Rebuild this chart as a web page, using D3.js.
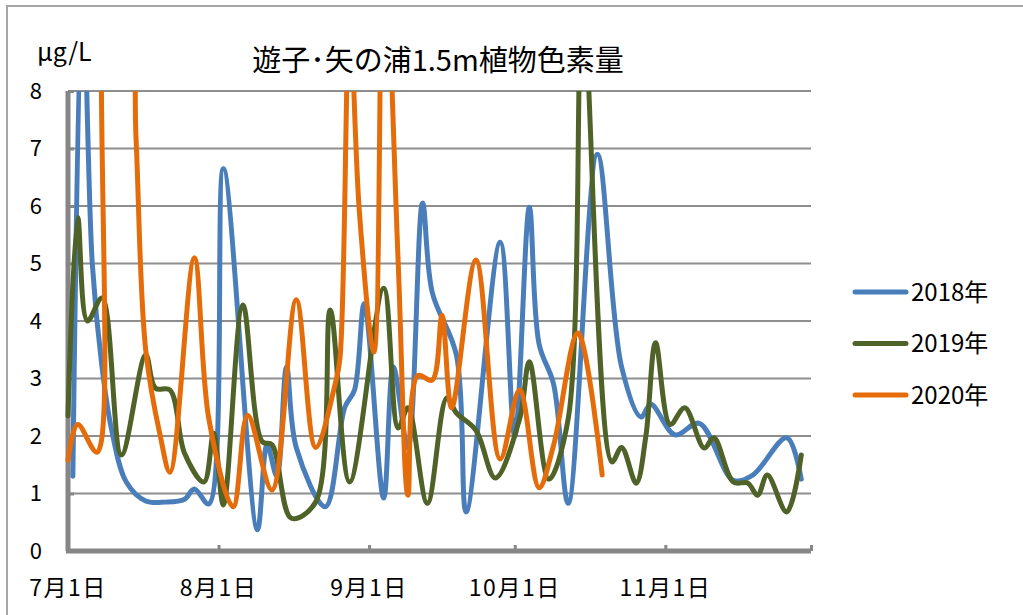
<!DOCTYPE html>
<html><head><meta charset="utf-8">
<script src="https://cdn.jsdelivr.net/npm/d3@7"></script>
<style>
html,body{margin:0;padding:0;background:#fff;}
svg{display:block;}
text{font-family:"Noto Sans CJK JP","Noto Sans",sans-serif;fill:#000;}
</style></head>
<body>
<svg id="chart" width="1023" height="615"></svg>
<script>
const title = "遊子･矢の浦1.5m植物色素量";
const yUnit = "μg/L";
const seriesNames = ["2018年", "2019年", "2020年"];
const seriesColors = ["#4a7ebb", "#4f6228", "#e46c0a"];
const yTicks = [0, 1, 2, 3, 4, 5, 6, 7, 8];
const xTickDates = ["7/1", "8/1", "9/1", "10/1", "11/1", "12/1"];
const xTickLabels = ["7月1日", "8月1日", "9月1日", "10月1日", "11月1日", ""];

const dates2018 = ["7/2","7/4","7/6","7/8","7/10","7/13","7/17","7/21","7/25","7/27","7/30","8/2","8/9","8/11","8/13","8/15","8/17","8/23","8/27","8/29","8/31","9/4","9/6","9/9","9/12","9/14","9/19","9/21","9/28","10/1","10/4","10/6","10/9","10/12","10/18","10/23","10/27","10/29","11/3","11/8","11/15","11/19","11/26","11/29"];
const values2018 = [1.3,10,5.0,3.2,2.1,1.2,0.87,0.85,0.9,1.08,0.82,6.65,0.37,1.85,1.3,3.2,1.8,0.77,2.5,2.8,4.3,0.92,3.2,1.8,6.05,4.5,3.4,0.68,5.37,2.0,5.98,3.6,2.9,0.83,6.9,3.2,2.33,2.55,2.02,2.22,1.23,1.32,1.97,1.25];

const dates2019 = ["7/1","7/3","7/5","7/8","7/12","7/17","7/19","7/22","7/25","7/29","7/31","8/2","8/6","8/10","8/12","8/16","8/21","8/24","8/28","9/4","9/7","9/9","9/13","9/17","9/19","9/23","9/27","10/2","10/4","10/8","10/12","10/15","10/21","10/23","10/26","10/28","10/30","11/2","11/5","11/9","11/11","11/15","11/18","11/20","11/22","11/26","11/29"];
const values2019 = [2.35,5.8,4.0,4.4,1.67,3.41,2.83,2.8,1.7,1.2,2.05,0.8,4.28,1.9,1.85,0.57,0.85,4.19,1.2,4.57,2.14,2.49,0.83,2.66,2.4,2.1,1.27,2.3,3.29,1.25,2.3,9.5,1.55,1.8,1.18,2.0,3.62,2.2,2.49,1.79,1.97,1.2,1.18,0.97,1.32,0.68,1.67];

const dates2020 = ["7/1","7/3","7/7","7/10","7/13","7/15","7/17","7/20","7/22","7/27","7/30","8/4","8/7","8/12","8/17","8/21","8/25","8/26","8/28","8/30","9/2","9/4","9/7","9/9","9/11","9/14","9/16","9/18","9/23","9/28","10/2","10/6","10/9","10/14","10/19"];
const values2020 = [1.58,2.2,1.72,11,11,7.2,3.5,2.0,1.37,5.1,2.3,0.77,2.36,1.06,4.37,1.8,2.9,3.35,9.3,5.9,3.46,11,5.0,0.97,3.05,2.97,4.1,2.49,5.06,1.6,2.8,1.1,1.84,3.79,1.32];

const parse = s => { const [m, d] = s.split("/").map(Number); return new Date(2000, m - 1, d); };
const series = [
  {name: seriesNames[0], color: seriesColors[0], pts: dates2018.map((d, i) => [parse(d), values2018[i]])},
  {name: seriesNames[1], color: seriesColors[1], pts: dates2019.map((d, i) => [parse(d), values2019[i]])},
  {name: seriesNames[2], color: seriesColors[2], pts: dates2020.map((d, i) => [parse(d), values2020[i]])}
];

const svg = d3.select("#chart");
const L = 68, R = 811, T = 91, B = 551;
const x = d3.scaleTime().domain([parse("7/1"), parse("12/1")]).range([L, R]);
const y = d3.scaleLinear().domain([0, 8]).range([B, T]);

// chart border
svg.append("rect").attr("x", 7).attr("y", 6).attr("width", 1040).attr("height", 640)
  .attr("fill", "none").attr("stroke", "#a6a6a6").attr("stroke-width", 2);

// gridlines
svg.append("g").selectAll("line").data(yTicks.filter(v => v > 0)).join("line")
  .attr("x1", L).attr("x2", R).attr("y1", d => y(d)).attr("y2", d => y(d))
  .attr("stroke", "#8e8e8e").attr("stroke-width", 2);

// axes
const yAxis = d3.axisRight(y).tickValues(yTicks).tickSize(6).tickFormat("");
const ya = svg.append("g").attr("transform", `translate(${L},0)`).call(yAxis);
ya.select(".domain").attr("stroke", "#868686").attr("stroke-width", 5).attr("d", `M0,${T}V${B}`);
ya.selectAll(".tick line").attr("stroke", "#868686").attr("stroke-width", 3);

const xAxis = d3.axisTop(x).tickValues(xTickDates.map(parse)).tickSize(6).tickFormat("");
const xa = svg.append("g").attr("transform", `translate(0,${B})`).call(xAxis);
xa.select(".domain").attr("stroke", "#868686").attr("stroke-width", 5).attr("d", `M${L - 2},0H${R}`);
xa.selectAll(".tick line").attr("stroke", "#868686").attr("stroke-width", 3);

// clip
svg.append("clipPath").attr("id", "clip").append("rect")
  .attr("x", L - 4).attr("y", T).attr("width", R - L + 14).attr("height", B - T);

const line = d3.line().x(d => x(d[0])).y(d => y(d[1])).curve(d3.curveCatmullRom.alpha(0.5));
const g = svg.append("g").attr("clip-path", "url(#clip)");
series.forEach(s => {
  g.append("path").attr("d", line(s.pts)).attr("fill", "none")
    .attr("stroke", s.color).attr("stroke-width", 5)
    .attr("stroke-linejoin", "round").attr("stroke-linecap", "round");
});

// y labels
svg.append("g").selectAll("text").data(yTicks).join("text")
  .attr("x", 42).attr("y", d => y(d)).attr("dy", "0.36em")
  .attr("text-anchor", "end").attr("font-size", 22).text(d => d);

// x labels
svg.append("g").selectAll("text").data(xTickDates).join("text")
  .attr("x", d => x(parse(d))).attr("y", 596)
  .attr("text-anchor", "middle").attr("font-size", 23).attr("letter-spacing", 1.5)
  .text((d, i) => xTickLabels[i]);

// unit
svg.append("text").attr("x", 37).attr("y", 61).attr("font-size", 25).text(yUnit);

// title
svg.append("text").attr("x", 438).attr("y", 71).attr("text-anchor", "middle")
  .attr("font-size", 29).text(title);

// legend
const lg = svg.append("g");
series.forEach((s, i) => {
  const yy = 292 + i * 51.5;
  lg.append("line").attr("x1", 855).attr("x2", 906).attr("y1", yy).attr("y2", yy)
    .attr("stroke", s.color).attr("stroke-width", 5).attr("stroke-linecap", "round");
  lg.append("text").attr("x", 911).attr("y", yy).attr("dy", "0.36em")
    .attr("font-size", 24).text(s.name);
});
</script>
</body></html>
